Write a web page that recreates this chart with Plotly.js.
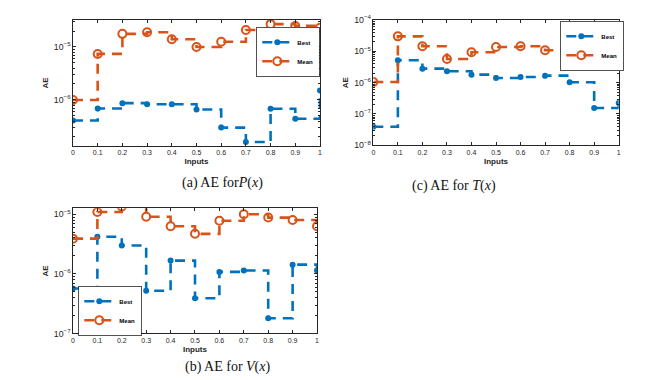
<!DOCTYPE html>
<html>
<head>
<meta charset="utf-8">
<script src="https://cdn.plot.ly/plotly-3.0.1.min.js"></script>
<style>
  html, body { margin: 0; padding: 0; background: #fff; }
  #plot { width: 661px; height: 380px; }
</style>
</head>
<body>
<div id="plot"></div>
<script>
// inputs, shared by all three panels
var inputs = [0, 0.1, 0.2, 0.3, 0.4, 0.5, 0.6, 0.7, 0.8, 0.9, 1];

// (a) AE for P(x)
var bestP = [4.1e-7, 6.9e-7, 8.7e-7, 8.3e-7, 8.3e-7, 6.6e-7, 3.0e-7, 1.6e-7, 6.8e-7, 4.4e-7, 1.5e-6];
var meanP = [1.0e-6, 7.4e-6, 1.77e-5, 1.9e-5, 1.4e-5, 1.0e-5, 1.26e-5, 2.1e-5, 2.7e-5, 2.5e-5, 2.3e-5];

// (c) AE for T(x)
var bestT = [3.9e-8, 5.2e-6, 2.8e-6, 2.3e-6, 1.8e-6, 1.4e-6, 1.52e-6, 1.67e-6, 1.03e-6, 1.55e-7, 2.25e-7];
var meanT = [1.05e-6, 3.0e-5, 1.45e-5, 5.7e-6, 9.3e-6, 1.38e-5, 1.45e-5, 1.08e-5, 5.4e-6, 9.3e-6, 9.1e-6];

// (b) AE for V(x)
var bestV = [5.7e-7, 4.2e-6, 3.0e-6, 5.2e-7, 1.67e-6, 3.9e-7, 1.08e-6, 1.14e-6, 1.8e-7, 1.43e-6, 1.14e-6];
var meanV = [3.9e-6, 1.09e-5, 1.35e-5, 9.1e-6, 6.3e-6, 4.7e-6, 7.8e-6, 1.0e-5, 8.8e-6, 8.0e-6, 6.3e-6];

var blue = "#0072BD";
var orange = "#D95319";

function stairs(y, name, color, xa, ya, leg, open) {
  return {
    x: inputs,
    y: y,
    name: name,
    type: "scatter",
    mode: "lines+markers",
    line: {shape: "hv", color: color, width: 2.6, dash: "10px,7px"},
    marker: open
      ? {symbol: "circle-open", size: 8, color: color, line: {width: 2, color: color}}
      : {symbol: "circle", size: 6, color: color},
    xaxis: xa,
    yaxis: ya,
    legend: leg
  };
}

var data = [
  stairs(bestP, "Best", blue, "x", "y", "legend", false),
  stairs(meanP, "Mean", orange, "x", "y", "legend", true),
  stairs(bestT, "Best", blue, "x2", "y2", "legend2", false),
  stairs(meanT, "Mean", orange, "x2", "y2", "legend2", true),
  stairs(bestV, "Best", blue, "x3", "y3", "legend3", false),
  stairs(meanV, "Mean", orange, "x3", "y3", "legend3", true)
];

var tickFont = {family: "Liberation Sans, Arial", size: 7, color: "#262626"};
var titleFont = {family: "Liberation Sans, Arial", size: 8, color: "#262626", weight: "bold"};

function xAxis(domain, anchor) {
  return {
    domain: domain, anchor: anchor, range: [0, 1], dtick: 0.1,
    showgrid: false, zeroline: false,
    showline: true, mirror: "ticks", linecolor: "#262626", linewidth: 1,
    ticks: "inside", ticklen: 3, tickcolor: "#262626",
    tickfont: tickFont,
    title: {text: "Inputs", font: titleFont, standoff: 3}
  };
}

function yAxis(domain, anchor, range) {
  return {
    domain: domain, anchor: anchor, type: "log", range: range, dtick: 1,
    exponentformat: "power",
    showgrid: false, zeroline: false,
    showline: true, mirror: "ticks", linecolor: "#262626", linewidth: 1,
    ticks: "inside", ticklen: 3, tickcolor: "#262626",
    minor: {ticks: "inside", ticklen: 2, tickcolor: "#262626"},
    tickfont: tickFont,
    title: {text: "AE", font: titleFont, standoff: 4}
  };
}

function legendAt(x, y) {
  return {
    x: x, y: y, xanchor: "center", yanchor: "top",
    bgcolor: "#fff", bordercolor: "#262626", borderwidth: 0.8,
    font: {family: "Liberation Sans, Arial", size: 6, color: "#000", weight: "bold"},
    itemwidth: 30, tracegroupgap: 0
  };
}

var captionFont = {family: "Liberation Serif, Times New Roman", size: 14, color: "#111"};

var layout = {
  width: 661,
  height: 380,
  margin: {l: 0, r: 0, t: 0, b: 0},
  paper_bgcolor: "#fff",
  plot_bgcolor: "#fff",
  xaxis: xAxis([0.1104, 0.4841], "y"),
  yaxis: yAxis([0.6158, 0.9474], "x", [-6.87, -4.49]),
  xaxis2: xAxis([0.5648, 0.936], "y2"),
  yaxis2: yAxis([0.6176, 0.9474], "x2", [-8, -4]),
  xaxis3: xAxis([0.1104, 0.4796], "y3"),
  yaxis3: yAxis([0.1224, 0.4518], "x3", [-7, -4.9]),
  legend: legendAt(288 / 661, 1 - 27 / 380),
  legend2: legendAt(592 / 661, 1 - 21 / 380),
  legend3: legendAt(110 / 661, 1 - 286 / 380),
  annotations: [
    {text: "(a) AE for<i>P</i>(<i>x</i>)", x: 180 / 661, y: 1 - 183 / 380, yanchor: "middle", xref: "paper", yref: "paper", showarrow: false, font: captionFont},
    {text: "(c) AE for <i>T</i>(<i>x</i>)", x: 498 / 661, y: 1 - 186 / 380, yanchor: "middle", xref: "paper", yref: "paper", showarrow: false, font: captionFont},
    {text: "(b) AE for <i>V</i>(<i>x</i>)", x: 183 / 661, y: 1 - 367 / 380, yanchor: "middle", xref: "paper", yref: "paper", showarrow: false, font: captionFont}
  ]
};

Plotly.newPlot("plot", data, layout, {displayModeBar: false, staticPlot: true});
</script>
</body>
</html>
